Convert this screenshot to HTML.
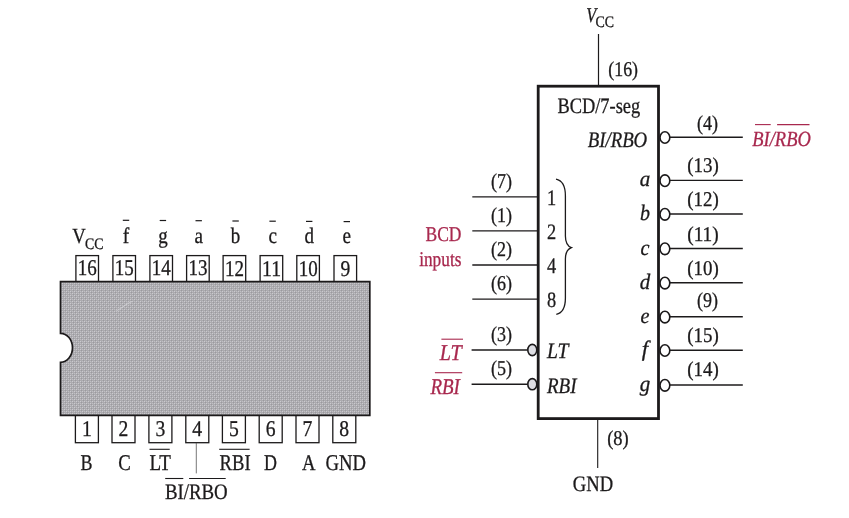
<!DOCTYPE html>
<html><head><meta charset="utf-8"><title>7447 BCD to 7-segment decoder</title>
<style>
html,body{margin:0;padding:0;background:#fff;}
svg{display:block;will-change:transform;font-family:"Liberation Serif",serif;}
</style></head>
<body>
<svg width="849" height="518" viewBox="0 0 849 518" text-rendering="geometricPrecision">
<rect x="0" y="0" width="849" height="518" fill="#ffffff"/>
<rect x="75.9" y="255.6" width="22.6" height="27.0" fill="#fff" stroke="#1c1a1b" stroke-width="1.3"/>
<text x="77.8" y="275.0" font-size="22.5" fill="#1c1a1b" stroke="#1c1a1b" stroke-width="0.3" textLength="19.0" lengthAdjust="spacingAndGlyphs">16</text>
<rect x="112.9" y="255.6" width="22.6" height="27.0" fill="#fff" stroke="#1c1a1b" stroke-width="1.3"/>
<text x="114.8" y="275.1" font-size="22.5" fill="#1c1a1b" stroke="#1c1a1b" stroke-width="0.3" textLength="19.0" lengthAdjust="spacingAndGlyphs">15</text>
<rect x="149.9" y="255.6" width="22.6" height="27.0" fill="#fff" stroke="#1c1a1b" stroke-width="1.3"/>
<text x="151.8" y="275.3" font-size="22.5" fill="#1c1a1b" stroke="#1c1a1b" stroke-width="0.3" textLength="19.0" lengthAdjust="spacingAndGlyphs">14</text>
<rect x="186.6" y="255.6" width="22.6" height="27.0" fill="#fff" stroke="#1c1a1b" stroke-width="1.3"/>
<text x="188.5" y="275.4" font-size="22.5" fill="#1c1a1b" stroke="#1c1a1b" stroke-width="0.3" textLength="19.0" lengthAdjust="spacingAndGlyphs">13</text>
<rect x="223.1" y="255.6" width="22.6" height="27.0" fill="#fff" stroke="#1c1a1b" stroke-width="1.3"/>
<text x="225.0" y="275.6" font-size="22.5" fill="#1c1a1b" stroke="#1c1a1b" stroke-width="0.3" textLength="19.0" lengthAdjust="spacingAndGlyphs">12</text>
<rect x="260.1" y="255.6" width="22.6" height="27.0" fill="#fff" stroke="#1c1a1b" stroke-width="1.3"/>
<text x="262.0" y="275.7" font-size="22.5" fill="#1c1a1b" stroke="#1c1a1b" stroke-width="0.3" textLength="19.0" lengthAdjust="spacingAndGlyphs">11</text>
<rect x="296.8" y="255.6" width="22.6" height="27.0" fill="#fff" stroke="#1c1a1b" stroke-width="1.3"/>
<text x="298.7" y="275.9" font-size="22.5" fill="#1c1a1b" stroke="#1c1a1b" stroke-width="0.3" textLength="19.0" lengthAdjust="spacingAndGlyphs">10</text>
<rect x="334.0" y="255.6" width="22.6" height="27.0" fill="#fff" stroke="#1c1a1b" stroke-width="1.3"/>
<text x="340.5" y="276.0" font-size="22.5" fill="#1c1a1b" stroke="#1c1a1b" stroke-width="0.3" textLength="9.8" lengthAdjust="spacingAndGlyphs">9</text>
<rect x="75.4" y="414.5" width="23.0" height="28.2" fill="#fff" stroke="#1c1a1b" stroke-width="1.3"/>
<text x="81.9" y="436.2" font-size="22.5" fill="#1c1a1b" stroke="#1c1a1b" stroke-width="0.3" textLength="9.8" lengthAdjust="spacingAndGlyphs">1</text>
<rect x="112.0" y="414.5" width="23.0" height="28.2" fill="#fff" stroke="#1c1a1b" stroke-width="1.3"/>
<text x="118.5" y="436.2" font-size="22.5" fill="#1c1a1b" stroke="#1c1a1b" stroke-width="0.3" textLength="9.8" lengthAdjust="spacingAndGlyphs">2</text>
<rect x="148.9" y="414.5" width="23.0" height="28.2" fill="#fff" stroke="#1c1a1b" stroke-width="1.3"/>
<text x="155.4" y="436.2" font-size="22.5" fill="#1c1a1b" stroke="#1c1a1b" stroke-width="0.3" textLength="9.8" lengthAdjust="spacingAndGlyphs">3</text>
<rect x="185.8" y="414.5" width="23.0" height="28.2" fill="#fff" stroke="#1c1a1b" stroke-width="1.3"/>
<text x="192.3" y="436.2" font-size="22.5" fill="#1c1a1b" stroke="#1c1a1b" stroke-width="0.3" textLength="9.8" lengthAdjust="spacingAndGlyphs">4</text>
<rect x="222.4" y="414.5" width="23.0" height="28.2" fill="#fff" stroke="#1c1a1b" stroke-width="1.3"/>
<text x="228.9" y="436.2" font-size="22.5" fill="#1c1a1b" stroke="#1c1a1b" stroke-width="0.3" textLength="9.8" lengthAdjust="spacingAndGlyphs">5</text>
<rect x="259.2" y="414.5" width="23.0" height="28.2" fill="#fff" stroke="#1c1a1b" stroke-width="1.3"/>
<text x="265.7" y="436.2" font-size="22.5" fill="#1c1a1b" stroke="#1c1a1b" stroke-width="0.3" textLength="9.8" lengthAdjust="spacingAndGlyphs">6</text>
<rect x="296.0" y="414.5" width="23.0" height="28.2" fill="#fff" stroke="#1c1a1b" stroke-width="1.3"/>
<text x="302.5" y="436.2" font-size="22.5" fill="#1c1a1b" stroke="#1c1a1b" stroke-width="0.3" textLength="9.8" lengthAdjust="spacingAndGlyphs">7</text>
<rect x="332.8" y="414.5" width="23.0" height="28.2" fill="#fff" stroke="#1c1a1b" stroke-width="1.3"/>
<text x="339.3" y="436.2" font-size="22.5" fill="#1c1a1b" stroke="#1c1a1b" stroke-width="0.3" textLength="9.8" lengthAdjust="spacingAndGlyphs">8</text>
<defs><pattern id="ht" x="60" y="281" width="4" height="4" patternUnits="userSpaceOnUse"><rect width="4" height="4" fill="#abaaae"/><rect x="0" y="0" width="1" height="1" fill="#cbcacf"/><rect x="2" y="0" width="1" height="1" fill="#c0bfc4"/><rect x="0" y="2" width="1" height="1" fill="#c0bfc4"/><rect x="2" y="2" width="1" height="1" fill="#cbcacf"/><rect x="1" y="1" width="1" height="1" fill="#9b9a9f"/><rect x="3" y="3" width="1" height="1" fill="#9b9a9f"/></pattern></defs>
<path d="M60.5,281.7 H369.8 V415.3 H60.5 V362.3 A12,14.5 0 0 0 60.5,333.3 Z" fill="url(#ht)" stroke="#1c1a1b" stroke-width="1.7"/>
<path d="M116.5,311 L124,306 L131.5,301.5" fill="none" stroke="#d6d5da" stroke-width="1.0" stroke-linecap="round" opacity="0.75"/>
<text x="72.2" y="242.6" font-size="21.5" fill="#1c1a1b" stroke="#1c1a1b" stroke-width="0.3" textLength="13.5" lengthAdjust="spacingAndGlyphs">V</text>
<text x="85.0" y="249.2" font-size="16" fill="#1c1a1b" stroke="#1c1a1b" stroke-width="0.3" textLength="18.5" lengthAdjust="spacingAndGlyphs">CC</text>
<text x="122.8" y="243.0" font-size="22.3" fill="#1c1a1b" stroke="#1c1a1b" stroke-width="0.3" textLength="6.5" lengthAdjust="spacingAndGlyphs">f</text>
<line x1="122.8" y1="220.3" x2="129.2" y2="220.3" stroke="#1c1a1b" stroke-width="1.2"/>
<text x="158.2" y="243.0" font-size="22.3" fill="#1c1a1b" stroke="#1c1a1b" stroke-width="0.3" textLength="9.5" lengthAdjust="spacingAndGlyphs">g</text>
<line x1="159.7" y1="220.5" x2="166.1" y2="220.5" stroke="#1c1a1b" stroke-width="1.2"/>
<text x="194.4" y="243.0" font-size="22.3" fill="#1c1a1b" stroke="#1c1a1b" stroke-width="0.3" textLength="8.5" lengthAdjust="spacingAndGlyphs">a</text>
<line x1="195.5" y1="220.7" x2="201.9" y2="220.7" stroke="#1c1a1b" stroke-width="1.2"/>
<text x="230.8" y="243.0" font-size="22.3" fill="#1c1a1b" stroke="#1c1a1b" stroke-width="0.3" textLength="9.5" lengthAdjust="spacingAndGlyphs">b</text>
<line x1="232.4" y1="221.0" x2="238.8" y2="221.0" stroke="#1c1a1b" stroke-width="1.2"/>
<text x="268.4" y="243.0" font-size="22.3" fill="#1c1a1b" stroke="#1c1a1b" stroke-width="0.3" textLength="8.5" lengthAdjust="spacingAndGlyphs">c</text>
<line x1="269.4" y1="221.2" x2="275.8" y2="221.2" stroke="#1c1a1b" stroke-width="1.2"/>
<text x="304.4" y="243.0" font-size="22.3" fill="#1c1a1b" stroke="#1c1a1b" stroke-width="0.3" textLength="9.5" lengthAdjust="spacingAndGlyphs">d</text>
<line x1="306.0" y1="221.4" x2="312.4" y2="221.4" stroke="#1c1a1b" stroke-width="1.2"/>
<text x="342.6" y="243.0" font-size="22.3" fill="#1c1a1b" stroke="#1c1a1b" stroke-width="0.3" textLength="8.5" lengthAdjust="spacingAndGlyphs">e</text>
<line x1="343.6" y1="221.6" x2="350.0" y2="221.6" stroke="#1c1a1b" stroke-width="1.2"/>
<text x="80.5" y="470.2" font-size="22.5" fill="#1c1a1b" stroke="#1c1a1b" stroke-width="0.3" textLength="12.0" lengthAdjust="spacingAndGlyphs">B</text>
<text x="118.3" y="470.2" font-size="22.5" fill="#1c1a1b" stroke="#1c1a1b" stroke-width="0.3" textLength="12.5" lengthAdjust="spacingAndGlyphs">C</text>
<text x="149.5" y="470.2" font-size="22.5" fill="#1c1a1b" stroke="#1c1a1b" stroke-width="0.3" textLength="21.5" lengthAdjust="spacingAndGlyphs">LT</text>
<line x1="149.5" y1="449.3" x2="169.7" y2="449.3" stroke="#1c1a1b" stroke-width="1.1"/>
<text x="219.6" y="470.2" font-size="22.5" fill="#1c1a1b" stroke="#1c1a1b" stroke-width="0.3" textLength="31.0" lengthAdjust="spacingAndGlyphs">RBI</text>
<line x1="219.2" y1="449.3" x2="249.6" y2="449.3" stroke="#1c1a1b" stroke-width="1.1"/>
<text x="264.1" y="470.2" font-size="22.5" fill="#1c1a1b" stroke="#1c1a1b" stroke-width="0.3" textLength="13.0" lengthAdjust="spacingAndGlyphs">D</text>
<text x="301.9" y="470.2" font-size="22.5" fill="#1c1a1b" stroke="#1c1a1b" stroke-width="0.3" textLength="13.5" lengthAdjust="spacingAndGlyphs">A</text>
<text x="325.6" y="470.2" font-size="22.5" fill="#1c1a1b" stroke="#1c1a1b" stroke-width="0.3" textLength="40.5" lengthAdjust="spacingAndGlyphs">GND</text>
<line x1="196.3" y1="443.0" x2="196.3" y2="473.4" stroke="#555" stroke-width="0.8"/>
<text x="164.9" y="499.2" font-size="22" fill="#1c1a1b" stroke="#1c1a1b" stroke-width="0.3" textLength="62.8" lengthAdjust="spacingAndGlyphs">BI/RBO</text>
<line x1="165.2" y1="478.5" x2="183.3" y2="478.5" stroke="#1c1a1b" stroke-width="1.1"/>
<line x1="189.1" y1="478.5" x2="225.7" y2="478.5" stroke="#1c1a1b" stroke-width="1.1"/>
<line x1="598.5" y1="34.0" x2="598.5" y2="86.2" stroke="#1c1a1b" stroke-width="1.2"/>
<line x1="597.7" y1="418.6" x2="597.7" y2="468.0" stroke="#1c1a1b" stroke-width="1.1"/>
<rect x="538.2" y="86.2" width="120.3" height="332.4" fill="none" stroke="#1c1a1b" stroke-width="2.8"/>
<text x="586.3" y="22.3" font-size="21" fill="#1c1a1b" stroke="#1c1a1b" stroke-width="0.3" font-style="italic" textLength="10.0" lengthAdjust="spacingAndGlyphs">V</text>
<text x="595.5" y="27.3" font-size="16" fill="#1c1a1b" stroke="#1c1a1b" stroke-width="0.3" textLength="18.5" lengthAdjust="spacingAndGlyphs">CC</text>
<text x="608.3" y="75.5" font-size="21" fill="#1c1a1b" stroke="#1c1a1b" stroke-width="0.3" textLength="29.7" lengthAdjust="spacingAndGlyphs">(16)</text>
<text x="557.4" y="113.3" font-size="22" fill="#1c1a1b" stroke="#1c1a1b" stroke-width="0.3" textLength="82.8" lengthAdjust="spacingAndGlyphs">BCD/7-seg</text>
<text x="572.8" y="491.2" font-size="22" fill="#1c1a1b" stroke="#1c1a1b" stroke-width="0.3" textLength="40.3" lengthAdjust="spacingAndGlyphs">GND</text>
<text x="607.2" y="445.3" font-size="21" fill="#1c1a1b" stroke="#1c1a1b" stroke-width="0.3" textLength="21.5" lengthAdjust="spacingAndGlyphs">(8)</text>
<line x1="472.3" y1="196.9" x2="538.2" y2="196.9" stroke="#1c1a1b" stroke-width="1.4"/>
<text x="491.0" y="188.2" font-size="21" fill="#1c1a1b" stroke="#1c1a1b" stroke-width="0.3" textLength="21.0" lengthAdjust="spacingAndGlyphs">(7)</text>
<text x="547.0" y="204.5" font-size="22" fill="#1c1a1b" stroke="#1c1a1b" stroke-width="0.3" textLength="9.2" lengthAdjust="spacingAndGlyphs">1</text>
<line x1="472.3" y1="230.9" x2="538.2" y2="230.9" stroke="#1c1a1b" stroke-width="1.4"/>
<text x="491.0" y="222.2" font-size="21" fill="#1c1a1b" stroke="#1c1a1b" stroke-width="0.3" textLength="21.0" lengthAdjust="spacingAndGlyphs">(1)</text>
<text x="547.0" y="238.5" font-size="22" fill="#1c1a1b" stroke="#1c1a1b" stroke-width="0.3" textLength="9.2" lengthAdjust="spacingAndGlyphs">2</text>
<line x1="472.3" y1="265.0" x2="538.2" y2="265.0" stroke="#1c1a1b" stroke-width="1.4"/>
<text x="491.0" y="256.3" font-size="21" fill="#1c1a1b" stroke="#1c1a1b" stroke-width="0.3" textLength="21.0" lengthAdjust="spacingAndGlyphs">(2)</text>
<text x="547.0" y="272.6" font-size="22" fill="#1c1a1b" stroke="#1c1a1b" stroke-width="0.3" textLength="9.2" lengthAdjust="spacingAndGlyphs">4</text>
<line x1="472.3" y1="299.1" x2="538.2" y2="299.1" stroke="#1c1a1b" stroke-width="1.4"/>
<text x="491.0" y="290.4" font-size="21" fill="#1c1a1b" stroke="#1c1a1b" stroke-width="0.3" textLength="21.0" lengthAdjust="spacingAndGlyphs">(6)</text>
<text x="547.0" y="306.7" font-size="22" fill="#1c1a1b" stroke="#1c1a1b" stroke-width="0.3" textLength="9.2" lengthAdjust="spacingAndGlyphs">8</text>
<path d="M556,179.2 C562.5,180.5 565.4,186 565.4,196 V236 C565.4,242 566.6,245.8 571.4,247.6 C566.6,249.4 565.4,253 565.4,259 V298 C565.4,308 562.5,313 556.3,314.4" fill="none" stroke="#1c1a1b" stroke-width="1.3"/>
<line x1="471.6" y1="350.0" x2="527.5" y2="350.0" stroke="#1c1a1b" stroke-width="1.4"/>
<ellipse cx="532.3" cy="350.0" rx="4.5" ry="5.6" fill="#dedee3" stroke="#1c1a1b" stroke-width="1.6"/>
<text x="491.0" y="341.0" font-size="21" fill="#1c1a1b" stroke="#1c1a1b" stroke-width="0.3" textLength="21.0" lengthAdjust="spacingAndGlyphs">(3)</text>
<text x="547.0" y="358.0" font-size="22" fill="#1c1a1b" stroke="#1c1a1b" stroke-width="0.3" font-style="italic" textLength="21.5" lengthAdjust="spacingAndGlyphs">LT</text>
<line x1="471.6" y1="384.2" x2="527.5" y2="384.2" stroke="#1c1a1b" stroke-width="1.4"/>
<ellipse cx="532.3" cy="384.2" rx="4.5" ry="5.6" fill="#dedee3" stroke="#1c1a1b" stroke-width="1.6"/>
<text x="491.0" y="375.2" font-size="21" fill="#1c1a1b" stroke="#1c1a1b" stroke-width="0.3" textLength="21.0" lengthAdjust="spacingAndGlyphs">(5)</text>
<text x="547.0" y="392.7" font-size="22" fill="#1c1a1b" stroke="#1c1a1b" stroke-width="0.3" font-style="italic" textLength="29.5" lengthAdjust="spacingAndGlyphs">RBI</text>
<text x="439.8" y="360.2" font-size="22.5" fill="#a8284e" stroke="#a8284e" stroke-width="0.3" font-style="italic" textLength="22.0" lengthAdjust="spacingAndGlyphs">LT</text>
<line x1="441.4" y1="339.2" x2="463.0" y2="339.2" stroke="#a8284e" stroke-width="1.1"/>
<text x="430.4" y="394.1" font-size="22.5" fill="#a8284e" stroke="#a8284e" stroke-width="0.3" font-style="italic" textLength="29.5" lengthAdjust="spacingAndGlyphs">RBI</text>
<line x1="434.9" y1="372.7" x2="462.2" y2="372.7" stroke="#a8284e" stroke-width="1.1"/>
<text x="425.5" y="240.7" font-size="21" fill="#a8284e" stroke="#a8284e" stroke-width="0.3" textLength="36.0" lengthAdjust="spacingAndGlyphs">BCD</text>
<text x="419.2" y="266.4" font-size="21" fill="#a8284e" stroke="#a8284e" stroke-width="0.3" textLength="42.2" lengthAdjust="spacingAndGlyphs">inputs</text>
<line x1="669.5" y1="137.2" x2="742.8" y2="137.2" stroke="#1c1a1b" stroke-width="1.4"/>
<ellipse cx="664.9" cy="137.5" rx="4.9" ry="5.8" fill="#fff" stroke="#1c1a1b" stroke-width="1.6"/>
<text x="697.1" y="129.6" font-size="21" fill="#1c1a1b" stroke="#1c1a1b" stroke-width="0.3" textLength="21.0" lengthAdjust="spacingAndGlyphs">(4)</text>
<text x="587.7" y="147.3" font-size="22" fill="#1c1a1b" stroke="#1c1a1b" stroke-width="0.3" font-style="italic" textLength="59.5" lengthAdjust="spacingAndGlyphs">BI/RBO</text>
<line x1="669.5" y1="180.4" x2="742.8" y2="180.4" stroke="#1c1a1b" stroke-width="1.4"/>
<ellipse cx="664.9" cy="180.7" rx="4.9" ry="5.8" fill="#fff" stroke="#1c1a1b" stroke-width="1.6"/>
<text x="687.2" y="172.4" font-size="21" fill="#1c1a1b" stroke="#1c1a1b" stroke-width="0.3" textLength="31.5" lengthAdjust="spacingAndGlyphs">(13)</text>
<text x="639.8" y="186.4" font-size="22" fill="#1c1a1b" stroke="#1c1a1b" stroke-width="0.3" font-style="italic" textLength="10.5" lengthAdjust="spacingAndGlyphs">a</text>
<line x1="669.5" y1="214.0" x2="742.8" y2="214.0" stroke="#1c1a1b" stroke-width="1.4"/>
<ellipse cx="664.9" cy="214.3" rx="4.9" ry="5.8" fill="#fff" stroke="#1c1a1b" stroke-width="1.6"/>
<text x="687.2" y="206.0" font-size="21" fill="#1c1a1b" stroke="#1c1a1b" stroke-width="0.3" textLength="31.5" lengthAdjust="spacingAndGlyphs">(12)</text>
<text x="640.0" y="220.0" font-size="22" fill="#1c1a1b" stroke="#1c1a1b" stroke-width="0.3" font-style="italic" textLength="10.0" lengthAdjust="spacingAndGlyphs">b</text>
<line x1="669.5" y1="248.5" x2="742.8" y2="248.5" stroke="#1c1a1b" stroke-width="1.4"/>
<ellipse cx="664.9" cy="248.8" rx="4.9" ry="5.8" fill="#fff" stroke="#1c1a1b" stroke-width="1.6"/>
<text x="687.2" y="240.5" font-size="21" fill="#1c1a1b" stroke="#1c1a1b" stroke-width="0.3" textLength="31.5" lengthAdjust="spacingAndGlyphs">(11)</text>
<text x="640.5" y="254.5" font-size="22" fill="#1c1a1b" stroke="#1c1a1b" stroke-width="0.3" font-style="italic" textLength="9.0" lengthAdjust="spacingAndGlyphs">c</text>
<line x1="669.5" y1="282.8" x2="742.8" y2="282.8" stroke="#1c1a1b" stroke-width="1.4"/>
<ellipse cx="664.9" cy="283.1" rx="4.9" ry="5.8" fill="#fff" stroke="#1c1a1b" stroke-width="1.6"/>
<text x="687.2" y="274.8" font-size="21" fill="#1c1a1b" stroke="#1c1a1b" stroke-width="0.3" textLength="31.5" lengthAdjust="spacingAndGlyphs">(10)</text>
<text x="639.8" y="288.8" font-size="22" fill="#1c1a1b" stroke="#1c1a1b" stroke-width="0.3" font-style="italic" textLength="10.5" lengthAdjust="spacingAndGlyphs">d</text>
<line x1="669.5" y1="316.8" x2="742.8" y2="316.8" stroke="#1c1a1b" stroke-width="1.4"/>
<ellipse cx="664.9" cy="317.1" rx="4.9" ry="5.8" fill="#fff" stroke="#1c1a1b" stroke-width="1.6"/>
<text x="697.1" y="307.4" font-size="21" fill="#1c1a1b" stroke="#1c1a1b" stroke-width="0.3" textLength="21.0" lengthAdjust="spacingAndGlyphs">(9)</text>
<text x="640.5" y="322.8" font-size="22" fill="#1c1a1b" stroke="#1c1a1b" stroke-width="0.3" font-style="italic" textLength="9.0" lengthAdjust="spacingAndGlyphs">e</text>
<line x1="669.5" y1="350.2" x2="742.8" y2="350.2" stroke="#1c1a1b" stroke-width="1.4"/>
<ellipse cx="664.9" cy="350.5" rx="4.9" ry="5.8" fill="#fff" stroke="#1c1a1b" stroke-width="1.6"/>
<text x="687.2" y="342.2" font-size="21" fill="#1c1a1b" stroke="#1c1a1b" stroke-width="0.3" textLength="31.5" lengthAdjust="spacingAndGlyphs">(15)</text>
<text x="641.8" y="356.2" font-size="22" fill="#1c1a1b" stroke="#1c1a1b" stroke-width="0.3" font-style="italic" textLength="6.4" lengthAdjust="spacingAndGlyphs">f</text>
<line x1="669.5" y1="385.0" x2="742.8" y2="385.0" stroke="#1c1a1b" stroke-width="1.4"/>
<ellipse cx="664.9" cy="385.3" rx="4.9" ry="5.8" fill="#fff" stroke="#1c1a1b" stroke-width="1.6"/>
<text x="687.2" y="375.7" font-size="21" fill="#1c1a1b" stroke="#1c1a1b" stroke-width="0.3" textLength="31.5" lengthAdjust="spacingAndGlyphs">(14)</text>
<text x="639.8" y="391.0" font-size="22" fill="#1c1a1b" stroke="#1c1a1b" stroke-width="0.3" font-style="italic" textLength="10.5" lengthAdjust="spacingAndGlyphs">g</text>
<text x="752.3" y="145.8" font-size="21.5" fill="#a8284e" stroke="#a8284e" stroke-width="0.3" font-style="italic" textLength="58.5" lengthAdjust="spacingAndGlyphs">BI/RBO</text>
<line x1="755.0" y1="124.6" x2="770.7" y2="124.6" stroke="#a8284e" stroke-width="1.1"/>
<line x1="777.1" y1="124.6" x2="809.5" y2="124.6" stroke="#a8284e" stroke-width="1.1"/>
</svg>
</body></html>
